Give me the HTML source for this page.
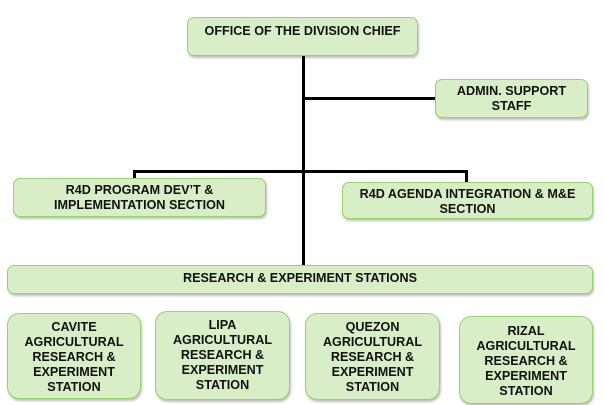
<!DOCTYPE html>
<html><head><meta charset="utf-8"><style>
body{margin:0;width:604px;height:405px;background:#fff;position:relative;overflow:hidden;font-family:"Liberation Sans",Arial,sans-serif;}
.b{position:absolute;box-sizing:border-box;background:#d7eec6;border:1.5px solid #95d46a;border-radius:7px;box-shadow:1px 2px 2px rgba(0,0,0,0.25);font-weight:bold;font-size:12.6px;color:#111;text-align:center;line-height:15px;white-space:nowrap;}
.l{position:absolute;background:#000;}
</style></head><body>
<div class="l" style="left:302px;top:56px;width:3px;height:210px"></div>
<div class="l" style="left:303px;top:97px;width:133px;height:3px"></div>
<div class="l" style="left:133px;top:170px;width:335px;height:3px"></div>
<div class="l" style="left:133px;top:170px;width:3px;height:10px"></div>
<div class="l" style="left:465px;top:170px;width:3px;height:13px"></div>

<div class="b" style="left:187px;top:17px;width:231px;height:39px;padding-top:6px">OFFICE OF THE DIVISION CHIEF</div>
<div class="b" style="left:435px;top:79px;width:153px;height:39px;padding-top:4px">ADMIN. SUPPORT<br>STAFF</div>
<div class="b" style="left:13px;top:178px;width:253px;height:39px;padding-top:4px">R4D PROGRAM DEV’T &amp;<br>IMPLEMENTATION SECTION</div>
<div class="b" style="left:342px;top:182px;width:251px;height:37px;padding-top:4px">R4D AGENDA INTEGRATION &amp; M&amp;E<br>SECTION</div>
<div class="b" style="left:7px;top:265px;width:586px;height:29px;padding-top:5px">RESEARCH &amp; EXPERIMENT STATIONS</div>

<div class="b" style="left:7px;top:313px;width:134px;height:86px;border-radius:12px;padding-top:6px">CAVITE<br>AGRICULTURAL<br>RESEARCH &amp;<br>EXPERIMENT<br>STATION</div>
<div class="b" style="left:155px;top:311px;width:135px;height:89px;border-radius:12px;padding-top:6px">LIPA<br>AGRICULTURAL<br>RESEARCH &amp;<br>EXPERIMENT<br>STATION</div>
<div class="b" style="left:305px;top:313px;width:135px;height:87px;border-radius:12px;padding-top:6px">QUEZON<br>AGRICULTURAL<br>RESEARCH &amp;<br>EXPERIMENT<br>STATION</div>
<div class="b" style="left:459px;top:316px;width:134px;height:88px;border-radius:12px;padding-top:7px">RIZAL<br>AGRICULTURAL<br>RESEARCH &amp;<br>EXPERIMENT<br>STATION</div>
</body></html>
